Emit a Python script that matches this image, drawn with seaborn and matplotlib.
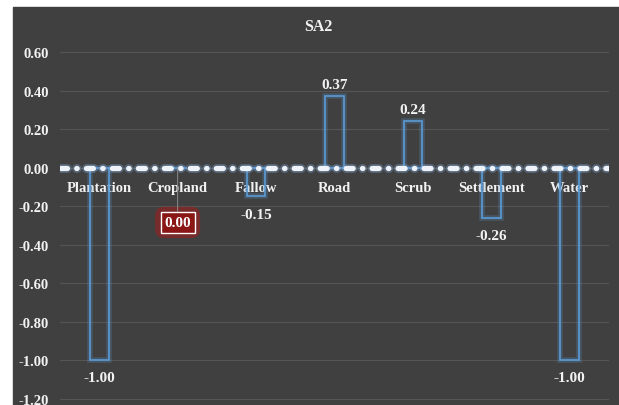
import pandas as pd
import seaborn as sns
import matplotlib.pyplot as plt
from matplotlib.patches import Rectangle

categories = ["Plantation", "Cropland", "Fallow", "Road", "Scrub", "Settlement", "Water"]
values = [-1.00, 0.00, -0.15, 0.37, 0.24, -0.26, -1.00]
y_ticks = [0.60, 0.40, 0.20, 0.00, -0.20, -0.40, -0.60, -0.80, -1.00, -1.20]
title = "SA2"

BG = "#404040"
BLUE = "#5b9bd5"
TXT = "#f2f2f2"

sns.set_style("dark")
plt.rcParams["font.family"] = ["Liberation Serif", "DejaVu Serif"]
plt.rcParams["font.weight"] = "bold"
plt.rcParams["lines.scale_dashes"] = False

fig = plt.figure(figsize=(6.19, 4.06), dpi=100)
fig.patch.set_facecolor("white")
# dark chart area, small white strip top and left
fig.add_artist(Rectangle((13 / 619, 0), 1, (406 - 8) / 406,
                         transform=fig.transFigure, color=BG, zorder=-10))

ax = fig.add_axes([60 / 619, 0.0, 549 / 619, 0.9169])
ax.set_facecolor("none")

df = pd.DataFrame({"category": categories, "value": values})

# glow + outline bars
sns.barplot(data=df, x="category", y="value", order=categories, width=0.24,
            fill=False, color=BLUE, linewidth=4, alpha=0.25, errorbar=None, ax=ax)
sns.barplot(data=df, x="category", y="value", order=categories, width=0.24,
            fill=False, color=BLUE, linewidth=1.2, errorbar=None, ax=ax)

# dash-dot zero line with glow
dash = (0, (5.0, 6.7, 0.3, 6.7))
ax.axhline(0, color="#7ea6d6", lw=6.5, alpha=0.35, ls=dash,
           dash_capstyle="round", zorder=5)
ax.axhline(0, color="#eef3fa", lw=3.8, ls=dash, dash_capstyle="round", zorder=6)

ax.set_xlim(-0.5, len(categories) - 0.5)
ax.set_ylim(-1.233, 0.70)
ax.set_yticks(y_ticks)
ax.set_yticklabels([f"{t:.2f}" for t in y_ticks])
ax.yaxis.grid(True, color="#555555", lw=0.8)
ax.xaxis.grid(False)
ax.set_axisbelow(True)
for s in ax.spines.values():
    s.set_visible(False)
ax.spines["bottom"].set_position(("data", 0))
ax.tick_params(axis="y", length=0, pad=8, labelcolor=TXT, labelsize=10.5)
ax.tick_params(axis="x", length=0, pad=10, labelcolor=TXT, labelsize=10.5)
ax.set_xlabel("")
ax.set_ylabel("")
for lab in ax.get_xticklabels() + ax.get_yticklabels():
    lab.set_fontweight("bold")
for lab in ax.get_xticklabels():
    lab.set_zorder(7)

# value labels
for i, v in enumerate(values):
    if v == 0:
        continue
    if v > 0:
        ax.annotate(f"{v:.2f}", xy=(i, v), xytext=(0, 4), textcoords="offset points",
                    ha="center", va="bottom", color=TXT, fontsize=11, fontweight="bold")
    else:
        ax.annotate(f"{v:.2f}", xy=(i, v), xytext=(0, -8), textcoords="offset points",
                    ha="center", va="top", color=TXT, fontsize=11, fontweight="bold")

# zero value label in highlighted box
i0 = values.index(0.00)
ax.annotate(f"{values[i0]:.2f}", xy=(i0, values[i0]), xytext=(0, -39.5),
            textcoords="offset points", ha="center", va="center", color="none",
            fontsize=11, fontweight="bold",
            bbox=dict(boxstyle="round,pad=0.6", fc="#b01818", ec="none", alpha=0.5),
            zorder=7)
ax.annotate(f"{values[i0]:.2f}", xy=(i0, values[i0]), xytext=(0, -39.5),
            textcoords="offset points", ha="center", va="center", color="white",
            fontsize=11, fontweight="bold",
            bbox=dict(boxstyle="square,pad=0.25", fc="#8a1616", ec="white", lw=1),
            arrowprops=dict(arrowstyle="-", color="#8a8a8a", lw=0.7, shrinkA=0, shrinkB=0),
            zorder=8)

fig.text(318 / 619, 1 - 27 / 406, title, ha="center", va="center",
         color=TXT, fontsize=11.5, fontweight="bold")

fig.savefig("out.png", dpi=100, facecolor=fig.get_facecolor())
